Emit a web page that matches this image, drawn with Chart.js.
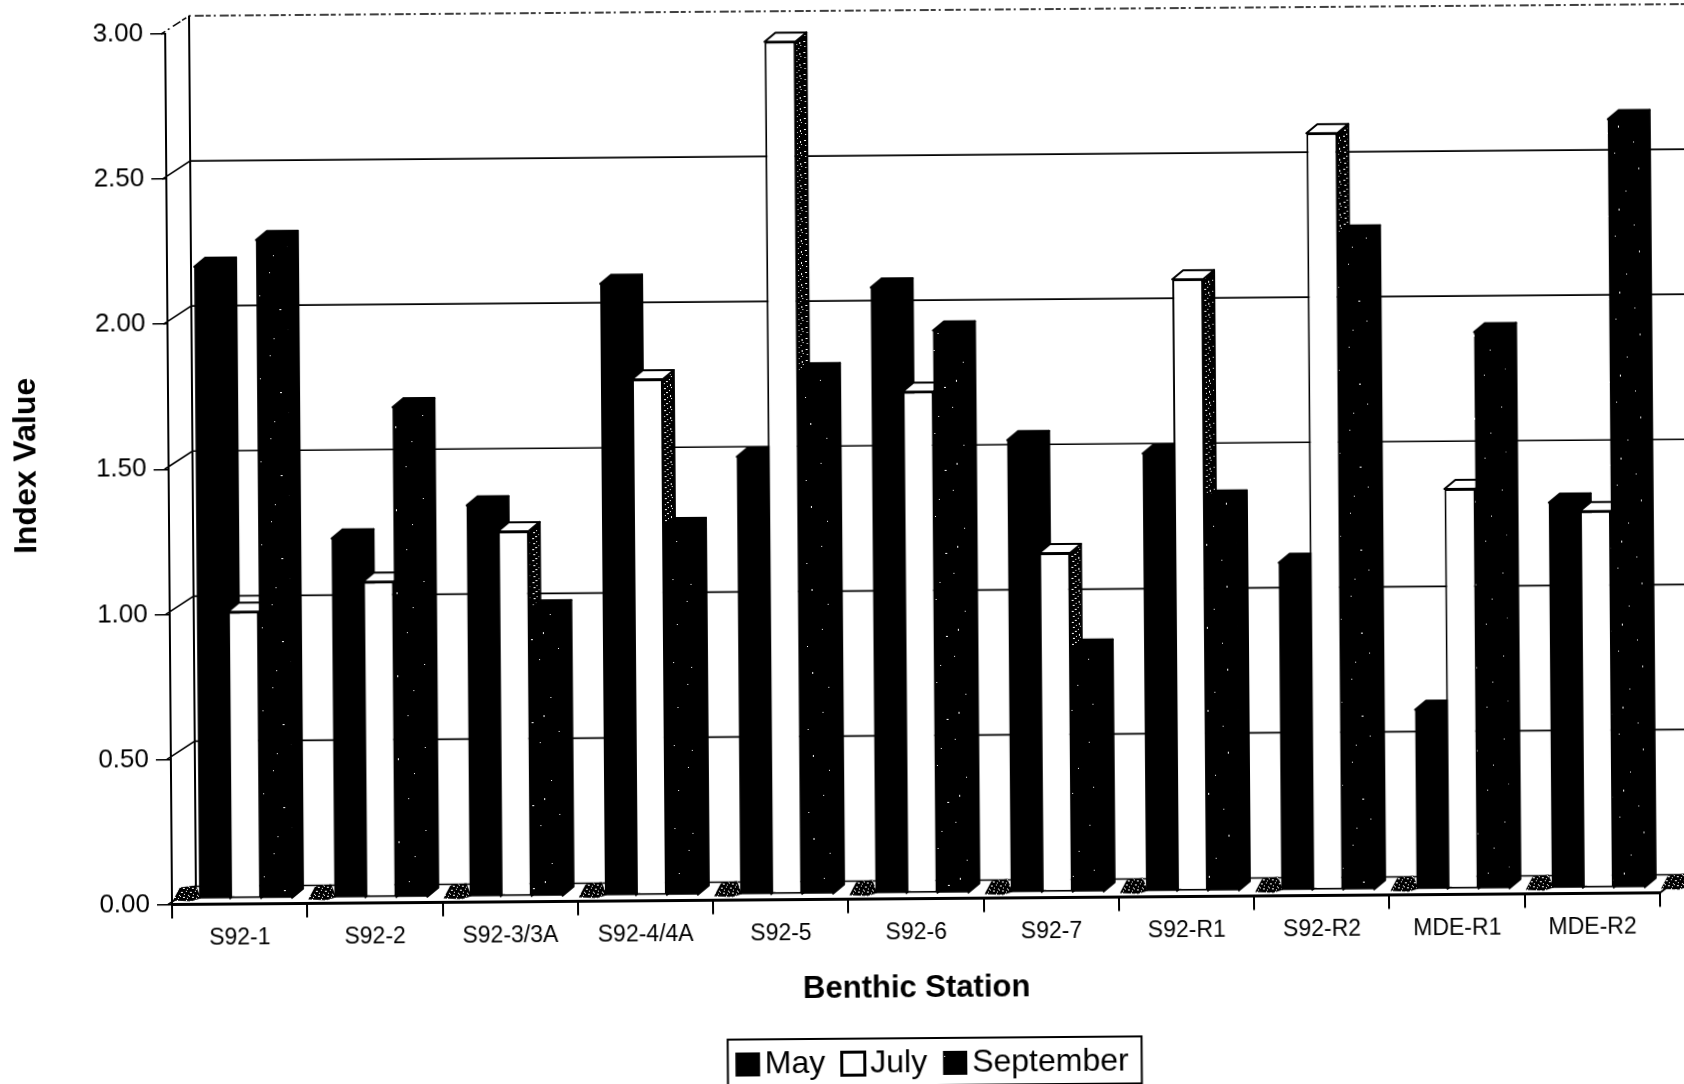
<!DOCTYPE html>
<html lang="en">
<head>
<meta charset="UTF-8" />
<title>Benthic Station Index Values</title>
<script src="https://cdn.jsdelivr.net/npm/chart.js"></script>
<style>
  html, body { margin: 0; height: 100%; overflow: hidden; background: #fff; }
  /* the scanned page sits slightly crooked */
  #chart { position: absolute; left: 0; top: 0; transform-origin: 172px 903px; transform: rotate(-0.45deg); }
</style>
</head>
<body>
<canvas id="chart" width="1720" height="1110"></canvas>
<script>
const categories = ['S92-1','S92-2','S92-3/3A','S92-4/4A','S92-5','S92-6','S92-7','S92-R1','S92-R2','MDE-R1','MDE-R2'];
const mayValues = [2.18,1.24,1.35,2.11,1.51,2.09,1.56,1.51,1.13,0.62,1.33];
const julyValues = [0.99,1.09,1.26,1.78,2.94,1.73,1.17,2.11,2.61,1.38,1.30];
const septemberValues = [2.27,1.69,0.99,1.27,1.80,1.94,0.84,1.35,2.26,1.92,2.65];

const FONT = '"Liberation Sans", Arial, sans-serif';
const WALL_DX = 24, WALL_DY = 18;   // depth of the 3d box
const BAR_DX = 11, BAR_DY = 9;      // depth of one bar
const FRONT_DX = 6, FRONT_DY = 5;   // bars stand a bit behind the front edge

// dither tiles, fixed dot lists so the scan grain looks the same every run
function tile(size, bg, fg, dots) {
  const c = document.createElement('canvas');
  c.width = c.height = size;
  const g = c.getContext('2d');
  g.fillStyle = bg;
  g.fillRect(0, 0, size, size);
  g.fillStyle = fg;
  dots.forEach(d => g.fillRect(d[0], d[1], d[2] || 1, d[3] || 1));
  return g.createPattern(c, 'repeat');
}
const ctx0 = document.getElementById('chart').getContext('2d');
const septFill = tile(83, '#000', '#fff', [[5,7],[37,3],[61,18,1,2],[19,29],[48,41],[9,52],[29,66,2,1],[71,58],[56,75],[23,12],[77,33],[41,59,1,2]]);
const sideFill = tile(11, '#000', '#fff', [[2,1,2,1],[7,3],[4,5,2,1],[1,7,2,1],[8,8,1,2],[5,10],[9,0]]);
const floorFill = tile(9, '#000', '#fff', [[1,1,2,1],[6,0],[4,3],[8,4],[0,5],[3,6,2,1],[7,7]]);

const box3d = {
  id: 'box3d',
  afterLayout(chart) {
    // legend sits off-centre in the original
    const l = chart.legend;
    l.left += 101; l.right += 101;
    const h = l.bottom - l.top;
    l.top = 1037; l.bottom = l.top + h;
  },
  beforeDatasetsDraw(chart) {
    const c = chart.ctx, x = chart.scales.x, y = chart.scales.y;
    const L = x.left, R = x.right, B = y.bottom;
    c.save();
    c.strokeStyle = '#000';

    // back wall gridlines
    y.ticks.forEach(t => {
      const py = y.getPixelForValue(t.value);
      const top = t.value === 3;
      c.lineWidth = top ? 1.5 : 1.6;
      c.setLineDash(top ? [5, 3, 2, 4, 9, 2] : []);
      c.beginPath();
      c.moveTo(L - 4, py);
      c.lineTo(L + WALL_DX, py - WALL_DY);
      c.lineTo(R + WALL_DX + 30, py - WALL_DY);
      c.stroke();
    });
    c.setLineDash([]);
    c.lineWidth = 2;
    c.beginPath();
    c.moveTo(L + WALL_DX, y.top - WALL_DY);
    c.lineTo(L + WALL_DX, B - WALL_DY);
    c.moveTo(R, B);
    c.lineTo(R + WALL_DX, B - WALL_DY);
    c.stroke();

    // dark floor grain left over between the groups
    const step = x.width / categories.length;
    for (let i = 0; i <= categories.length; i++) {
      const bx = L + i * step + 1;
      c.fillStyle = floorFill;
      c.beginPath();
      c.moveTo(bx, B - 4);
      c.lineTo(bx + 7, B - 17);
      c.lineTo(bx + 23, B - 19);
      c.lineTo(bx + 28, B - 6);
      c.lineTo(bx + 18, B - 3);
      c.closePath();
      c.fill();
    }

    // bars, may first so september ends up on top
    c.translate(FRONT_DX, -FRONT_DY);
    chart.data.datasets.forEach((ds, i) => {
      chart.getDatasetMeta(i).data.forEach(el => {
        const p = el.getProps(['x', 'y', 'base', 'width'], true);
        const xl = p.x - p.width / 2, xr = p.x + p.width / 2;
        c.lineWidth = 2;
        c.lineJoin = 'round';
        c.strokeStyle = '#000';
        c.fillStyle = ds.sideColor;
        c.beginPath();
        c.moveTo(xr, p.y);
        c.lineTo(xr + BAR_DX, p.y - BAR_DY);
        c.lineTo(xr + BAR_DX, p.base - BAR_DY);
        c.lineTo(xr, p.base);
        c.closePath();
        c.fill();
        c.stroke();
        c.fillStyle = ds.topColor;
        c.beginPath();
        c.moveTo(xl, p.y);
        c.lineTo(xl + BAR_DX, p.y - BAR_DY);
        c.lineTo(xr + BAR_DX, p.y - BAR_DY);
        c.lineTo(xr, p.y);
        c.closePath();
        c.fill();
        c.stroke();
        el.draw(c);
      });
    });
    c.restore();
    return false;
  },
  afterDraw(chart) {
    const boxes = chart.legend.legendHitBoxes;
    const c = chart.ctx;
    const a = boxes[0], b = boxes[boxes.length - 1];
    c.save();
    c.strokeStyle = '#000';
    c.lineWidth = 2;
    c.strokeRect(a.left - 8, a.top - 9, b.left + b.width - a.left + 21, 47);
    // legend keys are wider than the library leaves room for
    boxes.forEach((h, i) => {
      c.fillStyle = chart.data.datasets[i].backgroundColor;
      c.lineWidth = i === 1 ? 3 : 1;
      c.fillRect(h.left, h.top + 4, 24, 24);
      c.strokeRect(h.left + 0.5, h.top + 4.5, 23, 23);
    });
    c.restore();
  }
};

new Chart(ctx0, {
  type: 'bar',
  plugins: [box3d],
  data: {
    labels: categories,
    datasets: [
      { label: 'May', data: mayValues, backgroundColor: '#000', sideColor: '#000', topColor: '#000', borderWidth: 0 },
      { label: 'July', data: julyValues, backgroundColor: '#fff', sideColor: sideFill, topColor: '#fff', borderWidth: 2 },
      { label: 'September', data: septemberValues, backgroundColor: septFill, sideColor: '#000', topColor: '#000', borderWidth: 0 }
    ]
  },
  options: {
    responsive: false,
    animation: false,
    font: { family: FONT },
    layout: { padding: { left: 0, top: 34, right: 60, bottom: 0 } },
    datasets: { bar: { categoryPercentage: 0.687, barPercentage: 1, borderColor: '#000', borderSkipped: false } },
    plugins: {
      tooltip: { enabled: false },
      legend: {
        position: 'bottom',
        labels: { boxWidth: 13, boxHeight: 24, padding: 16, color: '#000', font: { family: FONT, size: 32 } }
      }
    },
    scales: {
      x: {
        afterFit(s) { s.height = 147.5; },
        border: { color: '#000', width: 3 },
        grid: { drawOnChartArea: false, color: '#000', lineWidth: 2, tickLength: 14 },
        ticks: { color: '#000', font: { family: FONT, size: 23 }, padding: 6, maxRotation: 0 },
        title: { display: true, text: 'Benthic Station', color: '#000', font: { family: FONT, size: 31, weight: 'bold' }, padding: { top: 0, bottom: 39 } }
      },
      y: {
        min: 0,
        max: 3,
        afterFit(s) { s.width = 172; },
        border: { color: '#000', width: 2 },
        grid: { drawOnChartArea: false, color: '#000', lineWidth: 1.5, tickLength: 15 },
        ticks: { stepSize: 0.5, color: '#000', font: { family: FONT, size: 26 }, padding: 7, callback: v => v.toFixed(2) },
        title: { display: true, text: ' Index Value', color: '#000', font: { family: FONT, size: 32, weight: 'bold' }, padding: { top: 11, bottom: 0 } }
      }
    }
  }
});
</script>
</body>
</html>
